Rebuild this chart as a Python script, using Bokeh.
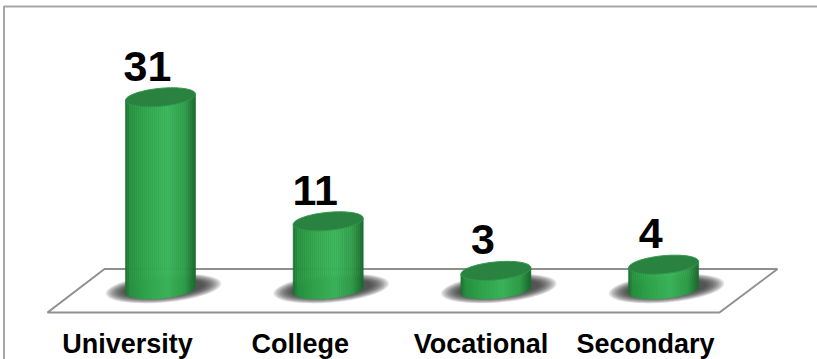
import numpy as np
from bokeh.plotting import figure
from bokeh.models import Range1d
from bokeh.embed import file_html
from bokeh.resources import INLINE
from bokeh.core.properties import value

# ---------------- data ----------------
categories = ["University", "College", "Vocational", "Secondary"]
counts = [31, 11, 3, 4]

# ---------------- layout / style (pixels) ----------------
W, H = 817, 359
CAT_PX = 167.7        # pixels between category centres
X0_PX = 160           # pixel x of first category centre
BASE_PX = 289         # pixel y (from top) of value 0
UNIT_PX = 6.2         # pixels per count
CYL_W = 70            # cylinder width (px)
CAP_B = 9             # half-height of ellipses (px)
SHEAR = 0.09          # tilt of ellipses (right side higher)
LABEL_DX_PX = [-33, -28, -15, -18]   # category label nudges (style)
LABEL_Y_PX = 343
VAL_DX_PX = -13
VAL_DY_PX = 31

x_start = -X0_PX / CAT_PX
x_end = x_start + W / CAT_PX
y_start = -(H - BASE_PX) / UNIT_PX
y_end = y_start + H / UNIT_PX


def dx(px):
    return x_start + px / CAT_PX


def dy(py):
    return y_end - py / UNIT_PX


p = figure(width=W, height=H, x_range=Range1d(x_start, x_end),
           y_range=Range1d(y_start, y_end), output_backend="svg",
           toolbar_location=None, min_border=0,
           x_axis_location=None, y_axis_location=None)
p.grid.visible = False
p.outline_line_color = None
p.background_fill_color = "white"
p.border_fill_color = "white"

# floor
p.patch([dx(104), dx(777), dx(719), dx(47)],
        [dy(268.5), dy(268.5), dy(312), dy(312)],
        fill_color="white", line_color="#8f8f8f", line_width=2)

# shadows
xs_idx = np.arange(len(categories), dtype=float)
for k in range(12):
    p.ellipse(x=list(xs_idx + 3 / CAT_PX), y=[1.0 / UNIT_PX] * len(categories),
              width=116 - 3.2 * k, height=28 - 1.1 * k,
              width_units="screen", height_units="screen",
              angle=float(np.arctan(SHEAR)),
              fill_color="#2a2a2a", fill_alpha=0.12, line_color=None)

# cylinder bodies as shaded vertical strips
stops_t = [0.0, 0.07, 0.3, 0.6, 0.85, 1.0]
stops_rgb = np.array([[0x1c, 0x6e, 0x30], [0x26, 0x90, 0x3f], [0x2f, 0xa4, 0x4b],
                      [0x3a, 0xb4, 0x5a], [0x2e, 0x9c, 0x48], [0x1a, 0x68, 0x2d]], float)


def shade(t):
    c = [np.interp(t, stops_t, stops_rgb[:, ch]) for ch in range(3)]
    return "#%02x%02x%02x" % tuple(int(round(v)) for v in c)


NS = 35
u_edges = np.linspace(-CYL_W / 2, CYL_W / 2, NS + 1)
u_mid = (u_edges[:-1] + u_edges[1:]) / 2
L, R, T, Bt, C = [], [], [], [], []
for i, v in enumerate(counts):
    for j in range(NS):
        u = u_mid[j]
        ell = CAP_B * np.sqrt(max(0.0, 1 - (2 * u / CYL_W) ** 2))
        L.append(i + u_edges[j] / CAT_PX)
        R.append(i + u_edges[j + 1] / CAT_PX)
        T.append(v + SHEAR * u / UNIT_PX)
        Bt.append((SHEAR * u - ell) / UNIT_PX)
        C.append(shade((u + CYL_W / 2) / CYL_W))
p.quad(left=L, right=R, top=T, bottom=Bt, fill_color=C, line_color=C, line_width=0.6)

# caps
ang = np.linspace(0, 2 * np.pi, 80)
cap_x, cap_y = [], []
for i, v in enumerate(counts):
    u = (CYL_W / 2) * np.cos(ang)
    up = SHEAR * u + CAP_B * np.sin(ang)
    cap_x.append(list(i + u / CAT_PX))
    cap_y.append(list(v + up / UNIT_PX))
p.patches(cap_x, cap_y, fill_color="#2a8241", line_color="#33984c", line_width=1)

# value labels
p.text(x=[i + VAL_DX_PX / CAT_PX for i in range(len(counts))],
       y=[v + VAL_DY_PX / UNIT_PX for v in counts],
       text=[str(v) for v in counts],
       text_font=value("Liberation Sans"), text_font_style="bold",
       text_font_size="43px", text_color="black",
       text_align="center", text_baseline="alphabetic")

# category labels
p.text(x=[i + LABEL_DX_PX[i] / CAT_PX for i in range(len(categories))],
       y=[dy(LABEL_Y_PX)] * len(categories),
       text=categories,
       text_font=value("Liberation Sans"), text_font_style="bold",
       text_font_size="27px", text_color="black",
       text_align="center", text_baseline="alphabetic")

# chart border
p.line([dx(3.5), dx(3.5), dx(822)], [dy(365), dy(6), dy(6)],
       line_color="#a6a6a6", line_width=2)

open("out.html", "w").write(file_html(p, INLINE))
